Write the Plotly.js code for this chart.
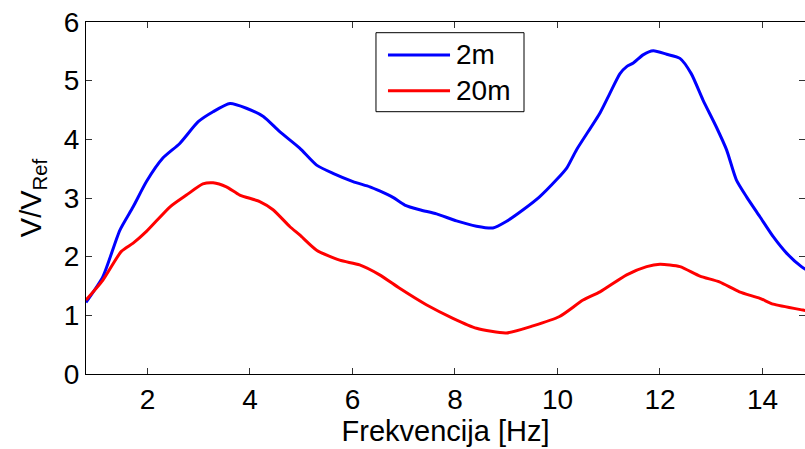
<!DOCTYPE html>
<html>
<head>
<meta charset="utf-8">
<script src="https://cdn.plot.ly/plotly-3.0.1.min.js"></script>
<style>html,body{margin:0;padding:0;background:#fff;}#chart{width:805px;height:449px;}</style>
</head>
<body>
<div id="chart"></div>
<script>
// Frequency (Hz) and V/V_Ref for each series
const freq2m = [0.8, 1.13, 1.46, 1.72, 1.98, 2.30, 2.63, 2.99, 3.28, 3.61, 3.93, 4.26, 4.58, 4.97, 5.30, 5.62, 6.01, 6.34, 6.53, 6.79, 7.02, 7.31, 7.64, 8.03, 8.42, 8.74, 9.00, 9.33, 9.65, 9.98, 10.18, 10.37, 10.83, 11.02, 11.22, 11.35, 11.48, 11.67, 11.87, 12.13, 12.39, 12.61, 12.84, 13.10, 13.30, 13.49, 13.69, 13.95, 14.21, 14.47, 14.76, 14.85];
const val2m  = [1.22, 1.66, 2.45, 2.85, 3.28, 3.68, 3.93, 4.30, 4.47, 4.61, 4.53, 4.39, 4.13, 3.85, 3.56, 3.42, 3.28, 3.19, 3.12, 3.01, 2.88, 2.80, 2.73, 2.61, 2.52, 2.49, 2.60, 2.80, 3.02, 3.31, 3.51, 3.82, 4.45, 4.78, 5.12, 5.24, 5.30, 5.44, 5.51, 5.45, 5.38, 5.12, 4.67, 4.21, 3.82, 3.31, 3.02, 2.68, 2.34, 2.06, 1.83, 1.78];
const freq20m = [0.8, 1.13, 1.49, 1.72, 1.98, 2.44, 2.76, 3.08, 3.28, 3.54, 3.80, 4.19, 4.45, 4.78, 4.97, 5.30, 5.75, 6.14, 6.53, 6.92, 7.44, 7.96, 8.42, 9.00, 9.52, 10.04, 10.50, 10.83, 11.35, 11.74, 12.00, 12.39, 12.78, 13.16, 13.55, 13.95, 14.21, 14.79, 14.85];
const val20m  = [1.26, 1.60, 2.09, 2.23, 2.43, 2.85, 3.05, 3.24, 3.26, 3.19, 3.05, 2.94, 2.80, 2.51, 2.37, 2.11, 1.94, 1.86, 1.69, 1.46, 1.18, 0.95, 0.78, 0.70, 0.82, 0.98, 1.26, 1.40, 1.69, 1.83, 1.87, 1.83, 1.67, 1.57, 1.40, 1.29, 1.19, 1.09, 1.08];
const seriesNames = ["2m", "20m"];
const seriesColors = ["#0000ff", "#ff0000"];
const xTicks = [2, 4, 6, 8, 10, 12, 14];
const yTicks = [0, 1, 2, 3, 4, 5, 6];

function mkFont(sz) { return {family: "Liberation Sans, Arial, sans-serif", size: sz, color: "#000"}; }

const traces = [
  {x: freq2m, y: val2m, name: seriesNames[0], mode: "lines", showlegend: false, line: {color: seriesColors[0], width: 3, shape: "spline", smoothing: 0.6}},
  {x: freq20m, y: val20m, name: seriesNames[1], mode: "lines", showlegend: false, line: {color: seriesColors[1], width: 3, shape: "spline", smoothing: 0.6}}
];

function axisCommon() {
  return {
    showgrid: false, zeroline: false, showline: true, linecolor: "#000", linewidth: 1,
    mirror: "ticks", ticks: "inside", ticklen: 6, tickcolor: "#333", tickwidth: 1,
    tickfont: mkFont(28), automargin: false
  };
}

// Legend drawn in paper coordinates (Matlab-style box)
const legBox = {x0: 0.4033, x1: 0.6092, y0: 0.7452, y1: 0.9696};
const legRows = [0.9063, 0.8048];
const shapes = [
  {type: "rect", xref: "paper", yref: "paper", x0: legBox.x0, x1: legBox.x1, y0: legBox.y0, y1: legBox.y1,
   line: {color: "#000", width: 1}, fillcolor: "#fff", layer: "above"}
];
const annotations = [];
seriesNames.forEach((nm, i) => {
  shapes.push({type: "line", xref: "paper", yref: "paper", x0: 0.42, x1: 0.5063, y0: legRows[i], y1: legRows[i],
    line: {color: seriesColors[i], width: 3}, layer: "above"});
  annotations.push({xref: "paper", yref: "paper", x: 0.512, y: legRows[i], xanchor: "left", yanchor: "middle",
    text: nm, showarrow: false, font: mkFont(28)});
});

const layout = {
  width: 805, height: 449,
  margin: {l: 86, r: 0, t: 22, b: 75},
  paper_bgcolor: "#fff", plot_bgcolor: "#fff",
  font: mkFont(28),
  xaxis: Object.assign(axisCommon(), {
    range: [0.8, 14.83], tickvals: xTicks, ticktext: xTicks.map(String),
    title: {text: "Frekvencija [Hz]", font: mkFont(29), standoff: 0}
  }),
  yaxis: Object.assign(axisCommon(), {
    range: [0, 6], tickvals: yTicks, ticktext: yTicks.map(String),
    title: {text: "V/V<sub>Ref</sub>", font: mkFont(29), standoff: 13}
  }),
  showlegend: false,
  shapes: shapes,
  annotations: annotations
};

Plotly.newPlot("chart", traces, layout, {displayModeBar: false, staticPlot: true});
</script>
</body>
</html>
